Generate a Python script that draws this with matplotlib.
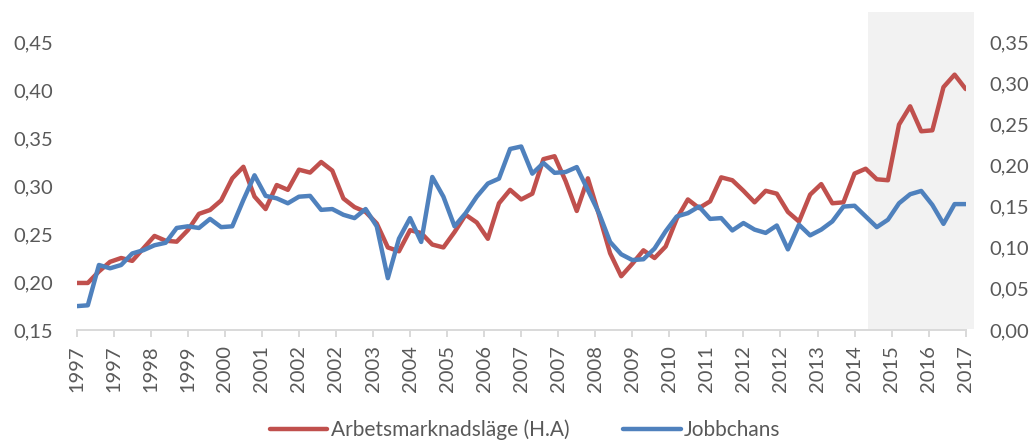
import matplotlib
matplotlib.use('Agg')
import matplotlib.pyplot as plt
import numpy as np
from matplotlib.patches import Rectangle
from matplotlib.ticker import FuncFormatter, FixedLocator
import matplotlib.transforms as mtransforms

plt.rcParams['font.family'] = ['Lato', 'DejaVu Sans']

# ---------------- data ----------------
# quarterly observations 1997Q1 .. 2017Q1 (x in months since Jan 1997)
months = np.arange(81) * 3

arbetsmarknadslage = [
    0.199, 0.199, 0.211, 0.221, 0.225, 0.222, 0.235, 0.248, 0.243, 0.242,
    0.254, 0.271, 0.275, 0.285, 0.308, 0.320, 0.289, 0.276, 0.301, 0.296,
    0.317, 0.314, 0.325, 0.316, 0.287, 0.278, 0.273, 0.261, 0.236, 0.232,
    0.254, 0.251, 0.239, 0.236, 0.252, 0.270, 0.262, 0.245, 0.282, 0.296,
    0.286, 0.292, 0.328, 0.331, 0.305, 0.274, 0.308, 0.270, 0.230, 0.206,
    0.219, 0.233, 0.225, 0.237, 0.266, 0.286, 0.277, 0.284, 0.309, 0.306,
    0.295, 0.283, 0.295, 0.292, 0.273, 0.263, 0.291, 0.302, 0.282, 0.283,
    0.313, 0.318, 0.307, 0.306, 0.364, 0.383, 0.357, 0.358, 0.403, 0.416,
    0.401,
]

jobbchans = [
    0.029, 0.030, 0.079, 0.075, 0.079, 0.093, 0.097, 0.103, 0.106, 0.124,
    0.126, 0.124, 0.135, 0.125, 0.126, 0.158, 0.188, 0.163, 0.160, 0.154,
    0.162, 0.163, 0.146, 0.147, 0.140, 0.136, 0.147, 0.126, 0.063, 0.111,
    0.136, 0.107, 0.186, 0.162, 0.126, 0.142, 0.162, 0.178, 0.184, 0.220,
    0.223, 0.190, 0.203, 0.191, 0.192, 0.198, 0.170, 0.142, 0.107, 0.092,
    0.085, 0.086, 0.099, 0.120, 0.138, 0.142, 0.150, 0.135, 0.136, 0.121,
    0.130, 0.122, 0.118, 0.127, 0.098, 0.128, 0.115, 0.122, 0.132, 0.150,
    0.151, 0.138, 0.125, 0.134, 0.154, 0.165, 0.169, 0.152, 0.129, 0.153,
    0.153,
]

tick_months = np.arange(0, 241, 10)
tick_labels = ['1997', '1997', '1998', '1999', '2000', '2001', '2002', '2002',
               '2003', '2004', '2005', '2006', '2007', '2007', '2008', '2009',
               '2010', '2011', '2012', '2012', '2013', '2014', '2015', '2016',
               '2017']

left_ticks = [0.15, 0.20, 0.25, 0.30, 0.35, 0.40, 0.45]
right_ticks = [0.00, 0.05, 0.10, 0.15, 0.20, 0.25, 0.30, 0.35]

shade_start, shade_end = 213.6, 242.2   # forecast period (months)

label_red = 'Arbetsmarknadsläge (H.A)'
label_blue = 'Jobbchans'

# ---------------- style ----------------
RED = '#C0504D'
BLUE = '#4F81BD'
TXT = '#595959'
AXC = '#D9D9D9'
FS = 14.5

W, H = 1036, 443
fig = plt.figure(figsize=(W / 100, H / 100), dpi=100)
ax = fig.add_axes([76.7 / W, 1 - 330 / H, 889 / W, 288 / H])
ax2 = ax.twinx()

# shaded region
trans = mtransforms.blended_transform_factory(ax.transData, ax.transAxes)
rect = Rectangle((shade_start, 0.004), shade_end - shade_start, 1.10,
                 transform=trans, facecolor='#F2F2F2', edgecolor='none',
                 zorder=0, clip_on=False)
ax.add_patch(rect)

l1, = ax.plot(months, arbetsmarknadslage, color=RED, lw=3.2,
              solid_joinstyle='round', solid_capstyle='round', zorder=3)
l2, = ax2.plot(months, jobbchans, color=BLUE, lw=3.2,
               solid_joinstyle='round', solid_capstyle='round', zorder=3)

ax.set_xlim(0, 240)
ax.set_ylim(0.15, 0.45)
ax2.set_ylim(0.0, 0.35)

fmt = FuncFormatter(lambda v, p: f'{v:.2f}'.replace('.', ','))
ax.yaxis.set_major_locator(FixedLocator(left_ticks))
ax2.yaxis.set_major_locator(FixedLocator(right_ticks))
ax.yaxis.set_major_formatter(fmt)
ax2.yaxis.set_major_formatter(fmt)

ax.set_xticks(tick_months)
ax.set_xticklabels(tick_labels, rotation=90)

for a in (ax, ax2):
    for s in ('top', 'left', 'right', 'bottom'):
        a.spines[s].set_visible(False)
    a.patch.set_visible(False)

ax.spines['bottom'].set_visible(True)
ax.spines['bottom'].set_color(AXC)
ax.spines['bottom'].set_linewidth(1.4)

ax.tick_params(axis='x', direction='out', length=5, width=1.4, color=AXC,
               labelsize=FS, labelcolor=TXT, pad=6)
ax.tick_params(axis='y', length=0, labelsize=FS, labelcolor=TXT, pad=17)
ax2.tick_params(axis='y', length=0, labelsize=FS, labelcolor=TXT, pad=17)

leg = fig.legend([l1, l2], [label_red, label_blue], loc='center',
                 bbox_to_anchor=(0.507, 1 - 430 / H), ncol=2, frameon=False,
                 handlelength=2.75, handletextpad=0.15, columnspacing=2.6,
                 fontsize=15, borderaxespad=0, borderpad=0)
for t in leg.get_texts():
    t.set_color(TXT)

fig.savefig('out.png', dpi=100)
